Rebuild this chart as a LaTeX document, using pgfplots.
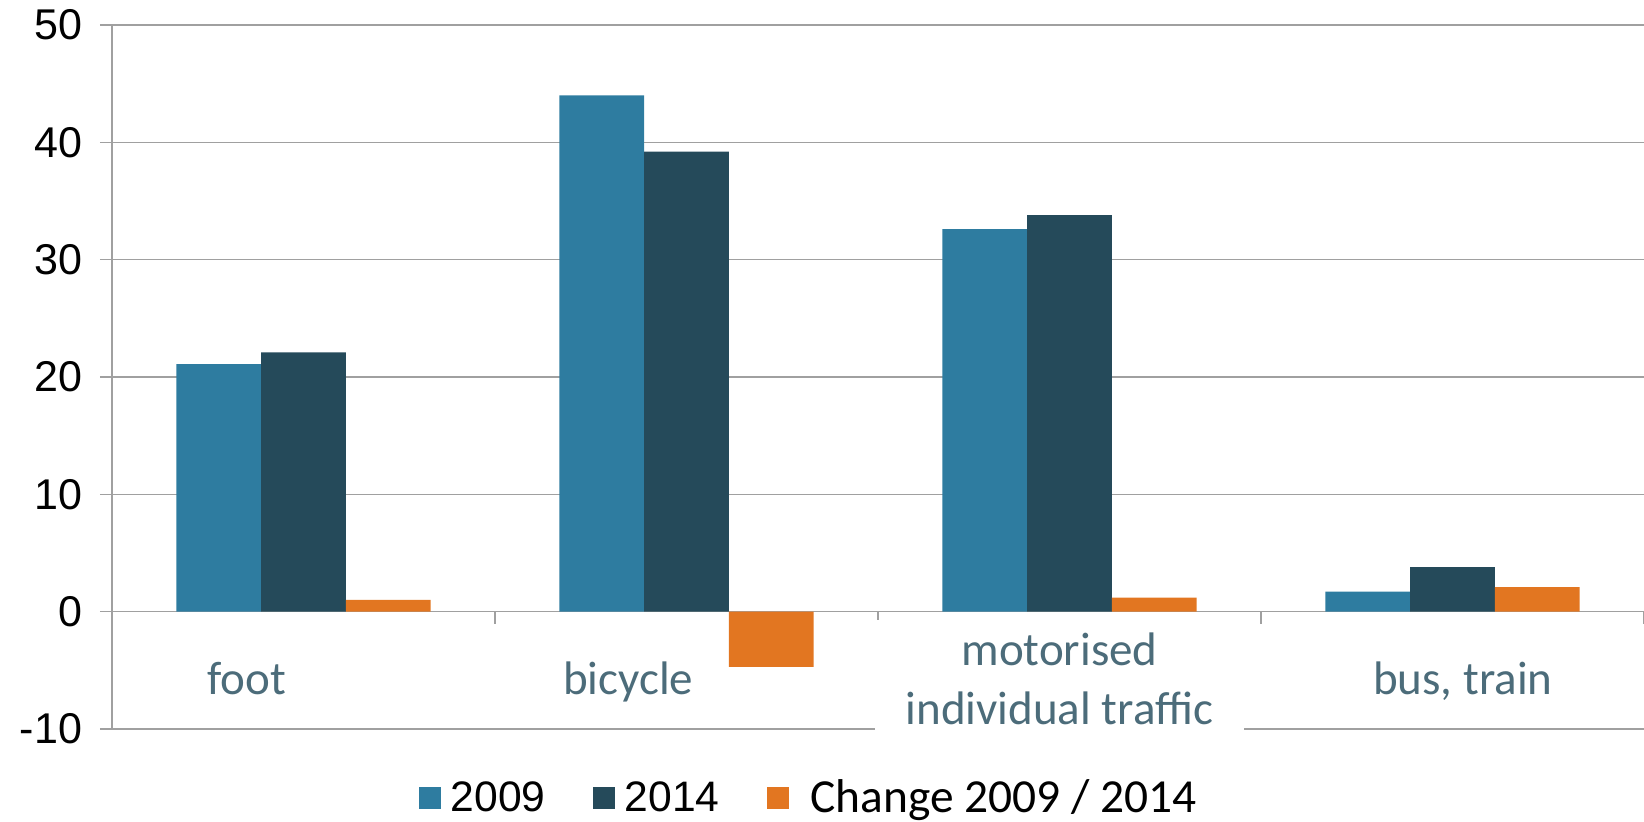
\documentclass[border=0pt]{standalone}
\usepackage{fontspec}
\setmainfont{Carlito}
\newfontfamily\arialfont{Liberation Sans}
\usepackage{pgfplots}
\pgfplotsset{compat=1.18}
\definecolor{c2009}{RGB}{46,124,160}
\definecolor{c2014}{RGB}{37,74,90}
\definecolor{cchg}{RGB}{226,118,33}
\definecolor{catlab}{RGB}{76,108,122}
\definecolor{gridc}{RGB}{160,160,160}
\pgfplotstableread{
x y2009 y2014 chg
0 21.1 22.1 1.0
1 44.0 39.2 -4.7
2 32.6 33.8 1.2
3 1.7 3.8 2.1
}\datatab
\begin{document}
\begin{tikzpicture}
\begin{axis}[name=ax, scale only axis, width=766bp, height=352bp,
  ymin=-10, ymax=50, xmin=-0.5, xmax=3.5,
  ybar=0pt, bar width=42.35bp,
  axis y line=left, axis x line=middle,
  axis line style={-, draw=gridc, line width=0.7bp},
  ymajorgrids, grid style={draw=gridc, line width=0.7bp},
  ytick={-10,0,10,20,30,40,50},
  hide obscured y ticks=false, hide obscured x ticks=false,
  xtick={0,1,2,3},
  xticklabels={{\strut foot}, {\strut bicycle}, {\strut motorised\\\strut individual traffic}, {\strut bus, train}},
  minor xtick={-0.5,0.5,1.5,2.5,3.5},
  tick align=outside, major tick length=6bp, minor tick length=6bp,
  tick style={draw=gridc, line width=0.7bp},
  major x tick style={draw=none},
  /pgf/number format/assume math mode=true,
  yticklabel style={font=\arialfont\fontsize{21.6}{25}\selectfont, text=black, xshift=-5.4bp},
  xticklabel style={font=\fontsize{23.6}{29.4}\selectfont, text=catlab, align=center,
    fill=white, inner xsep=15.5bp, inner ysep=2bp, anchor=center, yshift=-29.7bp,
    xshift={ifthenelse(\ticknum==0,-28.4,ifthenelse(\ticknum==1,-29.2,ifthenelse(\ticknum==2,-5,5.2)))*1bp}},
  legend style={at={(axis description cs:0.4556,-0.098)}, anchor=center, draw=none,
    font=\fontsize{23.8}{28}\selectfont,
    /tikz/every even column/.append style={column sep=21.7bp},
    /tikz/every odd column/.append style={column sep=3bp}},
  legend columns=3,
]
\addplot[fill=c2009, draw=none, legend image code/.code={\fill[c2009] (0bp,-5.4bp) rectangle (10.85bp,5.4bp);}] table[x=x, y=y2009] {\datatab};
\addplot[fill=c2014, draw=none, legend image code/.code={\fill[c2014] (0bp,-5.4bp) rectangle (10.85bp,5.4bp);}] table[x=x, y=y2014] {\datatab};
\addplot[fill=cchg, draw=none, legend image code/.code={\fill[cchg] (0bp,-5.4bp) rectangle (10.85bp,5.4bp);}] table[x=x, y=chg] {\datatab};
\addlegendentry{\arialfont\fontsize{21.4}{25}\selectfont 2009}
\addlegendentry{\arialfont\fontsize{21.4}{25}\selectfont 2014}
\addlegendentry{\hspace{6bp}Change 2009 / 2014}
\end{axis}
\pgfresetboundingbox
\path[use as bounding box] (ax.south west) ++(-56bp,-46.5bp) rectangle ++(822bp,411bp);
\end{tikzpicture}
\end{document}
